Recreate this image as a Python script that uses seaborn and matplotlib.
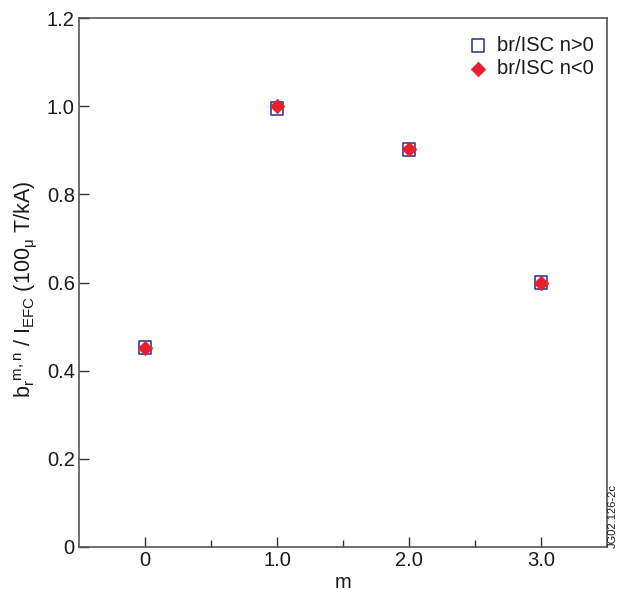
import matplotlib
matplotlib.use("Agg")
import matplotlib.pyplot as plt
import seaborn as sns
import pandas as pd
from matplotlib.ticker import FixedLocator

sns.set_style("white")
plt.rcParams['font.family'] = ['Liberation Sans', 'DejaVu Sans']
plt.rcParams['mathtext.fontset'] = 'custom'
plt.rcParams['mathtext.rm'] = 'Liberation Sans'
plt.rcParams['mathtext.it'] = 'Liberation Sans'
plt.rcParams['mathtext.default'] = 'regular'

m_vals = [0, 1, 2, 3]
pos_vals = [0.452, 0.995, 0.902, 0.600]
neg_vals = [0.452, 1.000, 0.902, 0.598]
err_vals = [0.010, 0.010, 0.010, 0.010]
series_names = ["br/ISC n>0", "br/ISC n<0"]
x_tick_labels = ["0", "1.0", "2.0", "3.0"]
y_tick_labels = ["0", "0.2", "0.4", "0.6", "0.8", "1.0", "1.2"]

df = pd.DataFrame({
    "m": m_vals * 2,
    "val": pos_vals + neg_vals,
    "series": [series_names[0]] * 4 + [series_names[1]] * 4,
})

FS = 14.5
fig = plt.figure(figsize=(6.2, 5.93), dpi=100)
ax = fig.add_axes([79/620, 1 - 547/593, (607-79)/620, (547-18)/593])

# error bars (red)
ax.errorbar(m_vals, neg_vals, yerr=err_vals, xerr=[0.035]*4, fmt='none',
            ecolor='#e8202a', elinewidth=1.0, capsize=0, zorder=2)

sns.scatterplot(data=df[df.series == series_names[0]], x="m", y="val", ax=ax,
                marker='s', s=85, facecolor='none', edgecolor='#3b3b9e',
                linewidth=1.2, label=series_names[0], zorder=3)
sns.scatterplot(data=df[df.series == series_names[1]], x="m", y="val", ax=ax,
                marker='D', s=55, color='#e8202a', edgecolor='#e8202a',
                linewidth=0.5, label=series_names[1], zorder=4)

ax.set_xlim(-0.5, 3.5)
ax.set_ylim(0, 1.2)
ax.xaxis.set_major_locator(FixedLocator([0, 1, 2, 3]))
ax.set_xticklabels(x_tick_labels)
ax.xaxis.set_minor_locator(FixedLocator([0.5, 1.5, 2.5]))
ax.yaxis.set_major_locator(FixedLocator([0, 0.2, 0.4, 0.6, 0.8, 1.0, 1.2]))
ax.set_yticklabels(y_tick_labels)
ax.tick_params(axis='both', which='major', direction='in', length=7, width=1,
               labelsize=FS, color='#333333', pad=3, labelcolor='#1a1a1a')
ax.tick_params(axis='x', which='minor', direction='in', length=5, width=1,
               color='#333333', bottom=True)
ax.tick_params(left=True, bottom=True, top=False, right=False)

for sp in ax.spines.values():
    sp.set_color('#555555')
    sp.set_linewidth(1.2)

ax.set_xlabel("m", fontsize=FS, labelpad=2, color='#1a1a1a')
ax.set_ylabel(r"b$_r$$^{m,n}$ / I$_{EFC}$ (100$_\mu$ T/kA)", fontsize=15.5,
              color='#1a1a1a')
ax.yaxis.set_label_coords(-0.075, 0.487)

leg = ax.legend(loc='upper right', bbox_to_anchor=(1.0, 0.991), frameon=False,
                fontsize=FS, handletextpad=0.35, borderaxespad=0.25,
                labelspacing=0.2, markerscale=1.0, handlelength=1.2)
for t in leg.get_texts():
    t.set_color('#1a1a1a')

fig.text(613/620, 1 - 548/593, "JG02.126-2c", rotation=90, fontsize=8,
         ha='center', va='bottom', color='#1a1a1a')

fig.savefig("out.png", dpi=100)
